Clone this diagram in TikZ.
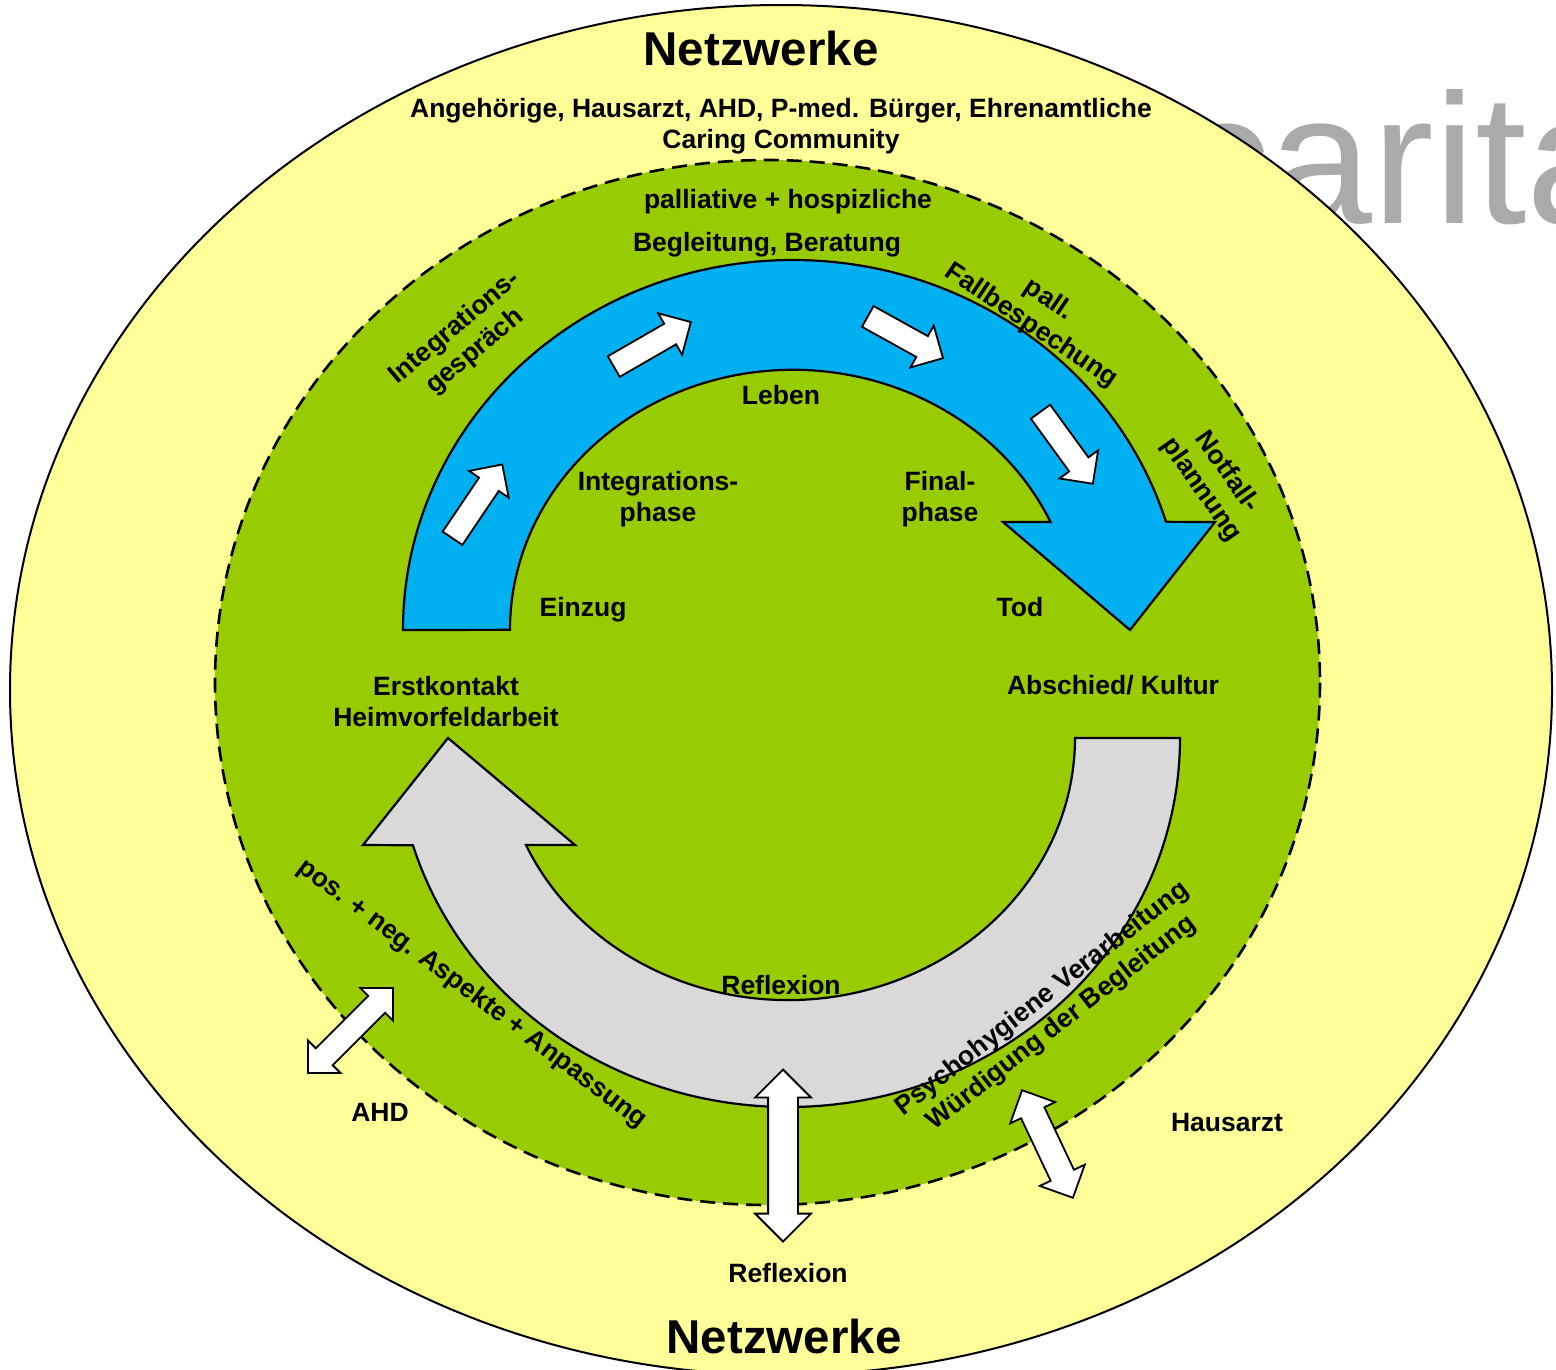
\documentclass[tikz,border=0pt]{standalone}
\usepackage{fontspec}
\setmainfont{Liberation Sans}
\usetikzlibrary{shapes.arrows}
\definecolor{netzgelb}{HTML}{FFFF99}
\definecolor{pflegegruen}{HTML}{99CC00}
\definecolor{lebenblau}{HTML}{00B0F0}
\definecolor{reflexgrau}{HTML}{D9D9D9}
\definecolor{logograu}{HTML}{AAAAAA}

\begin{document}
\begin{tikzpicture}[x=1pt, y=-1pt]
	\tikzstyle{txt} = [font=\bfseries\fontsize{26.5}{31}\selectfont, align=center, inner sep=0pt]
	\tikzstyle{gross} = [font=\bfseries\fontsize{47.5}{50}\selectfont, inner sep=0pt]
	\tikzstyle{pfeil} = [single arrow, draw, fill=white, line width=1.8pt, inner sep=11pt, single arrow head extend=12pt, minimum height=89pt, anchor=tail]
	\tikzstyle{doppel} = [double arrow, draw, fill=white, line width=1.8pt]
	
	\useasboundingbox (0,0) rectangle (1556,1369);
	
	\node[font=\fontsize{185}{185}\selectfont, text=logograu, anchor=base west, inner sep=0pt] (logo) at (1177,223) {carita};
	
	\draw[line width=2pt, fill=netzgelb] (781,690) ellipse [x radius=771, y radius=685];
	\draw[line width=2.6pt, dash pattern=on 15pt off 8pt, fill=pflegegruen] (767.5,682.5) ellipse [x radius=552.5, y radius=522.5];
	
	\draw[line width=2.2pt, fill=lebenblau] (403,630) arc[start angle=180, end angle=343, x radius=390, y radius=370]
		-- (1215,522) -- (1130,630) -- (1003,522) -- (1050.5,522)
		arc[start angle=335.5, end angle=180, x radius=283, y radius=260] -- cycle;
	\draw[line width=2.2pt, fill=reflexgrau] (1180,738) arc[start angle=0, end angle=163.1, x radius=392, y radius=369]
		-- (363,845) -- (448,738) -- (575,845) -- (526,845)
		arc[start angle=155.9, end angle=0, x radius=287, y radius=262] -- cycle;
	
	\node[pfeil, rotate=56] (pfeilA) at (452,539) {};
	\node[pfeil, rotate=30] (pfeilB) at (613,367) {};
	\node[pfeil, rotate=-29, minimum height=86pt] (pfeilC) at (867,316) {};
	\node[pfeil, rotate=-54] (pfeilD) at (1040,411) {};
	
	\node[doppel, rotate=90, inner sep=14pt, double arrow head extend=13pt, minimum height=172pt] (reflexpfeil) at (783,1155.5) {};
	\node[doppel, rotate=45, inner sep=11pt, double arrow head extend=11pt, minimum height=120pt] (ahdpfeil) at (350.5,1030.5) {};
	\node[doppel, rotate=-64.7, inner sep=12pt, double arrow head extend=12pt, minimum height=119pt] (hausarztpfeil) at (1047.5,1144) {};
	
	\node[gross] (netzoben) at (761,49) {Netzwerke};
	\node[txt] (netzliste) at (781,126) {Angehörige, Hausarzt, AHD, P-med. Bürger, Ehrenamtliche\\Caring Community};
	\node[txt] (palliativ) at (788,202) {palliative + hospizliche};
	\node[txt] (begleitung) at (767,245) {Begleitung, Beratung};
	\node[txt, rotate=40] (gespraech) at (465,340) {Integrations-\\gespräch};
	\node[txt, rotate=-34] (fallbesprechung) at (1040,313) {pall.\\Fallbespechung};
	\node[txt, rotate=-55] (notfall) at (1214,481) {Notfall-\\plannung};
	\node[txt] (leben) at (781,395) {Leben};
	\node[txt] (integrphase) at (658,499) {Integrations-\\phase};
	\node[txt] (finalphase) at (940,499) {Final-\\phase};
	\node[txt] (einzug) at (583,610) {Einzug};
	\node[txt] (tod) at (1020,607) {Tod};
	\node[txt] (erstkontakt) at (446,702) {Erstkontakt\\Heimvorfeldarbeit};
	\node[txt] (abschied) at (1113,685) {Abschied/ Kultur};
	\node[txt] (reflexinnen) at (781,985) {Reflexion};
	\node[txt, rotate=-37] (aspekte) at (472,994) {pos. + neg. Aspekte + Anpassung};
	\node[txt, rotate=38] (psychohygiene) at (1052,1011) {Psychohygiene Verarbeitung\\Würdigung der Begleitung};
	\node[txt] (ahd) at (380,1112) {AHD};
	\node[txt] (hausarzt) at (1227,1122) {Hausarzt};
	\node[txt] (reflexaussen) at (788,1273) {Reflexion};
	\node[gross] (netzunten) at (784,1337) {Netzwerke};
\end{tikzpicture}
\end{document}
